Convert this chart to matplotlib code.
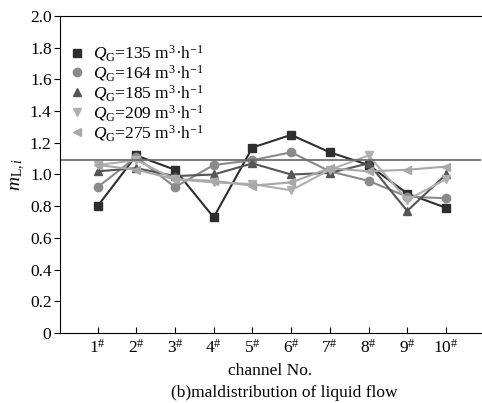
import matplotlib
matplotlib.use("Agg")
import matplotlib.pyplot as plt
from matplotlib.lines import Line2D

plt.rcParams['font.family'] = ['Liberation Serif', 'DejaVu Serif']
plt.rcParams['mathtext.fontset'] = 'custom'
plt.rcParams['mathtext.rm'] = 'Liberation Serif'
plt.rcParams['mathtext.it'] = 'Liberation Serif:italic'

# data
channels = [1, 2, 3, 4, 5, 6, 7, 8, 9, 10]
tick_labels = [f"{c}$^{{\\#}}$" for c in channels]
flows = [135, 164, 185, 209, 275]
m_135 = [0.80, 1.12, 1.03, 0.73, 1.17, 1.25, 1.14, 1.06, 0.88, 0.79]
m_164 = [0.92, 1.11, 0.92, 1.06, 1.09, 1.14, 1.02, 0.96, 0.86, 0.85]
m_185 = [1.02, 1.04, 0.99, 1.00, 1.07, 1.00, 1.01, 1.07, 0.77, 1.00]
m_209 = [1.06, 1.09, 0.97, 0.95, 0.94, 0.90, 1.03, 1.12, 0.84, 0.97]
m_275 = [1.06, 1.03, 0.97, 0.96, 0.93, 0.95, 1.04, 1.02, 1.03, 1.05]
ref_line = 1.09

series = [m_135, m_164, m_185, m_209, m_275]
colors = ['#2e2e2e', '#8a8a8a', '#555555', '#b0b0b0', '#a8a8a8']
markers = ['s', 'o', '^', 'v', '<']

fig = plt.figure(figsize=(4.82, 4.03), dpi=100)
ax = fig.add_axes([0.1245, 0.1737, 0.873, 0.7866])

for vals, c, mk in zip(series, colors, markers):
    ax.plot(channels, vals, color=c, marker=mk, markersize=6, linewidth=1.5)

ax.axhline(ref_line, color='#666666', linewidth=1.2)

ax.set_xlim(0.03, 10.9)
ax.set_ylim(0, 2.0)
ax.set_xticks(channels)
ax.set_xticklabels(tick_labels, fontsize=12.5)
ax.set_yticks([i * 0.2 for i in range(11)])
ax.set_yticklabels(['$\\it{0}$'] + [f"{i * 0.2:.1f}" for i in range(1, 11)], fontsize=12.5)
ax.tick_params(axis='x', direction='in', length=4, pad=4)
ax.tick_params(axis='y', direction='out', length=4, pad=2)
ax.spines['right'].set_visible(False)

ax.set_xlabel('channel No.', fontsize=12.5, labelpad=5)
ax.set_ylabel('$m_{\\mathrm{L},i}$', fontsize=14, labelpad=2)

handles = [Line2D([], [], linestyle='none', marker=mk, color=c, markersize=6)
           for c, mk in zip(colors, markers)]
labels = [f"$Q_\\mathrm{{G}}$={q} m$^3$·h$^{{-1}}$" for q in flows]
ax.legend(handles, labels, loc='upper left', bbox_to_anchor=(0.0, 0.935),
          frameon=False, fontsize=12.5, handletextpad=0.3, labelspacing=0.0,
          borderpad=0.0, borderaxespad=0.4, handlelength=1.2)

fig.text(0.59, 0.015, '(b)maldistribution of liquid flow', ha='center', fontsize=12.5)

fig.savefig('out.png', dpi=100)
